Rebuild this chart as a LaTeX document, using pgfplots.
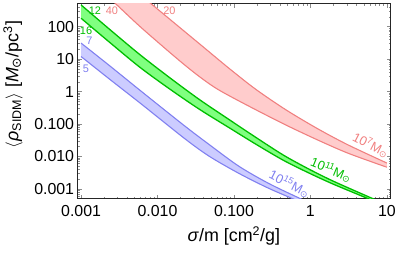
\documentclass[border=0pt]{standalone}
\usepackage{fontspec}
\setmainfont{Liberation Sans}
\newfontfamily\dejavu{DejaVu Sans}
\usepackage{pgfplots}
\pgfplotsset{compat=1.18}
\usepgfplotslibrary{fillbetween}
\definecolor{redline}{RGB}{240,128,128}
\definecolor{redfill}{RGB}{255,204,204}
\definecolor{greenline}{RGB}{0,190,0}
\definecolor{greenfill}{RGB}{128,255,128}
\definecolor{blueline}{RGB}{128,128,240}
\definecolor{bluefill}{RGB}{204,204,255}
\newcommand{\sun}{\textsubscript{\dejavu ⊙}}
\begin{document}
\begin{tikzpicture}
\path (0,0) rectangle (399bp,254bp);
\begin{axis}[
  at={(77.7bp,54bp)}, anchor=south west,
  scale only axis, width=315.3bp, height=196bp,
  xmode=log, ymode=log,
  xmin=0.0009, xmax=11.3, ymin=0.0005, ymax=500,
  xtick={0.001,0.01,0.1,1,10}, xticklabels={0.001,0.010,0.100,1,10},
  ytick={0.001,0.01,0.1,1,10,100}, yticklabels={0.001,0.010,0.100,1,10,100},
  minor xtick={0.002,0.003,0.004,0.005,0.006,0.007,0.008,0.009,0.02,0.03,0.04,0.05,0.06,0.07,0.08,0.09,0.2,0.3,0.4,0.5,0.6,0.7,0.8,0.9,2,3,4,5,6,7,8,9},
  minor ytick={0.0006,0.0007,0.0008,0.0009,0.002,0.003,0.004,0.005,0.006,0.007,0.008,0.009,0.02,0.03,0.04,0.05,0.06,0.07,0.08,0.09,0.2,0.3,0.4,0.5,0.6,0.7,0.8,0.9,2,3,4,5,6,7,8,9,20,30,40,50,60,70,80,90,200,300,400},
  tick align=inside, major tick length=4bp, minor tick length=2bp,
  every tick/.style={black!45, line width=0.5bp},
  axis line style={line width=1bp, black!85},
  ticklabel style={font=\fontsize{16bp}{16bp}\selectfont},
  xticklabel style={yshift=-3bp},
]
% red band (10^7 Msun)
\addplot[name path=RH, redline, line width=1.1bp, smooth] coordinates {
 (0.005012,1358) (0.00678,743) (0.01932,96.4) (0.0351,30.1) (0.0861,5.22) (0.1932,1.172) (0.4875,0.2667) (1.2706,0.0698) (3.119,0.0227) (10,0.00630)};
\addplot[name path=RL, redline, line width=1.1bp, smooth] coordinates {
 (0.002382,741) (0.002938,468) (0.005834,103.3) (0.01309,19.68) (0.02239,6.76) (0.03508,2.924) (0.05495,1.380) (0.0861,0.750) (0.1932,0.2754) (0.4875,0.0912) (1.2706,0.0316) (3.119,0.0126) (10,0.00468)};
\addplot[redfill] fill between[of=RH and RL];
% green band (10^11 Msun)
\addplot[name path=GH, greenline, line width=1.3bp, smooth] coordinates {
 (0.001,466.7) (0.002382,81.3) (0.005834,13.96) (0.01432,2.72) (0.03508,0.575) (0.0861,0.138) (0.1932,0.0389) (0.4457,0.01096) (0.9419,0.00417) (1.991,0.00174) (6.577,0.000501) (7.638,0.000427)};
\addplot[name path=GL, greenline, line width=1.3bp, smooth] coordinates {
 (0.001,181.6) (0.002382,32.4) (0.005834,5.69) (0.01432,1.216) (0.03508,0.288) (0.0861,0.0776) (0.1932,0.0240) (0.4457,0.00759) (0.9419,0.00316) (1.991,0.00141) (6.577,0.000437) (7.638,0.000372)};
\addplot[greenfill] fill between[of=GH and GL];
% blue band (10^15 Msun)
\addplot[name path=BH, blueline, line width=1.1bp, smooth] coordinates {
 (0.001,31.19) (0.002382,6.166) (0.006194,1.0) (0.02244,0.0891) (0.04732,0.02344) (0.1161,0.00501) (0.2851,0.001479) (0.7413,0.000501) (0.9419,0.00038)};
\addplot[name path=BL, blueline, line width=1.1bp, smooth] coordinates {
 (0.001,12.02) (0.002382,2.371) (0.006194,0.407) (0.02244,0.0363) (0.04732,0.01023) (0.1161,0.00302) (0.2851,0.001047) (0.7413,0.000398)};
\addplot[bluefill] fill between[of=BH and BL];
% curve labels
\node[greenline, font=\fontsize{11bp}{11bp}\selectfont] at (axis cs:0.00152,310) {12};
\node[greenline, font=\fontsize{11bp}{11bp}\selectfont] at (axis cs:0.00116,72.8) {16};
\node[blueline, font=\fontsize{11bp}{11bp}\selectfont] at (axis cs:0.00129,35.9) {7};
\node[blueline, font=\fontsize{11bp}{11bp}\selectfont] at (axis cs:0.00116,5.15) {5};
\node[redline, font=\fontsize{11bp}{11bp}\selectfont] at (axis cs:0.00253,310) {40};
\node[redline, font=\fontsize{11bp}{11bp}\selectfont] at (axis cs:0.01432,310) {20};
\node[redline, rotate=-27, font=\fontsize{13bp}{13bp}\selectfont, inner sep=0pt] at (axis cs:6.19,0.0224) {10\textsuperscript{7}M\sun};
\node[greenline, rotate=-22, font=\fontsize{13bp}{13bp}\selectfont, inner sep=0pt] at (axis cs:1.875,0.00383) {10\textsuperscript{11}M\sun};
\node[blueline, rotate=-27, font=\fontsize{13bp}{13bp}\selectfont, inner sep=0pt] at (axis cs:0.533,0.00142) {10\textsuperscript{15}M\sun};
\end{axis}
% axis labels
\node[anchor=base, font=\fontsize{18bp}{18bp}\selectfont] at (235bp,11bp) {\textit{σ}/m [cm\textsuperscript{2}/g]};
\node[anchor=base, rotate=90, font=\fontsize{18bp}{18bp}\selectfont] at (18bp,169bp) {$\langle$\textit{ρ}\textsubscript{SIDM}$\rangle$ [\textit{M}\sun/pc\textsuperscript{3}]};
\end{tikzpicture}
\end{document}
